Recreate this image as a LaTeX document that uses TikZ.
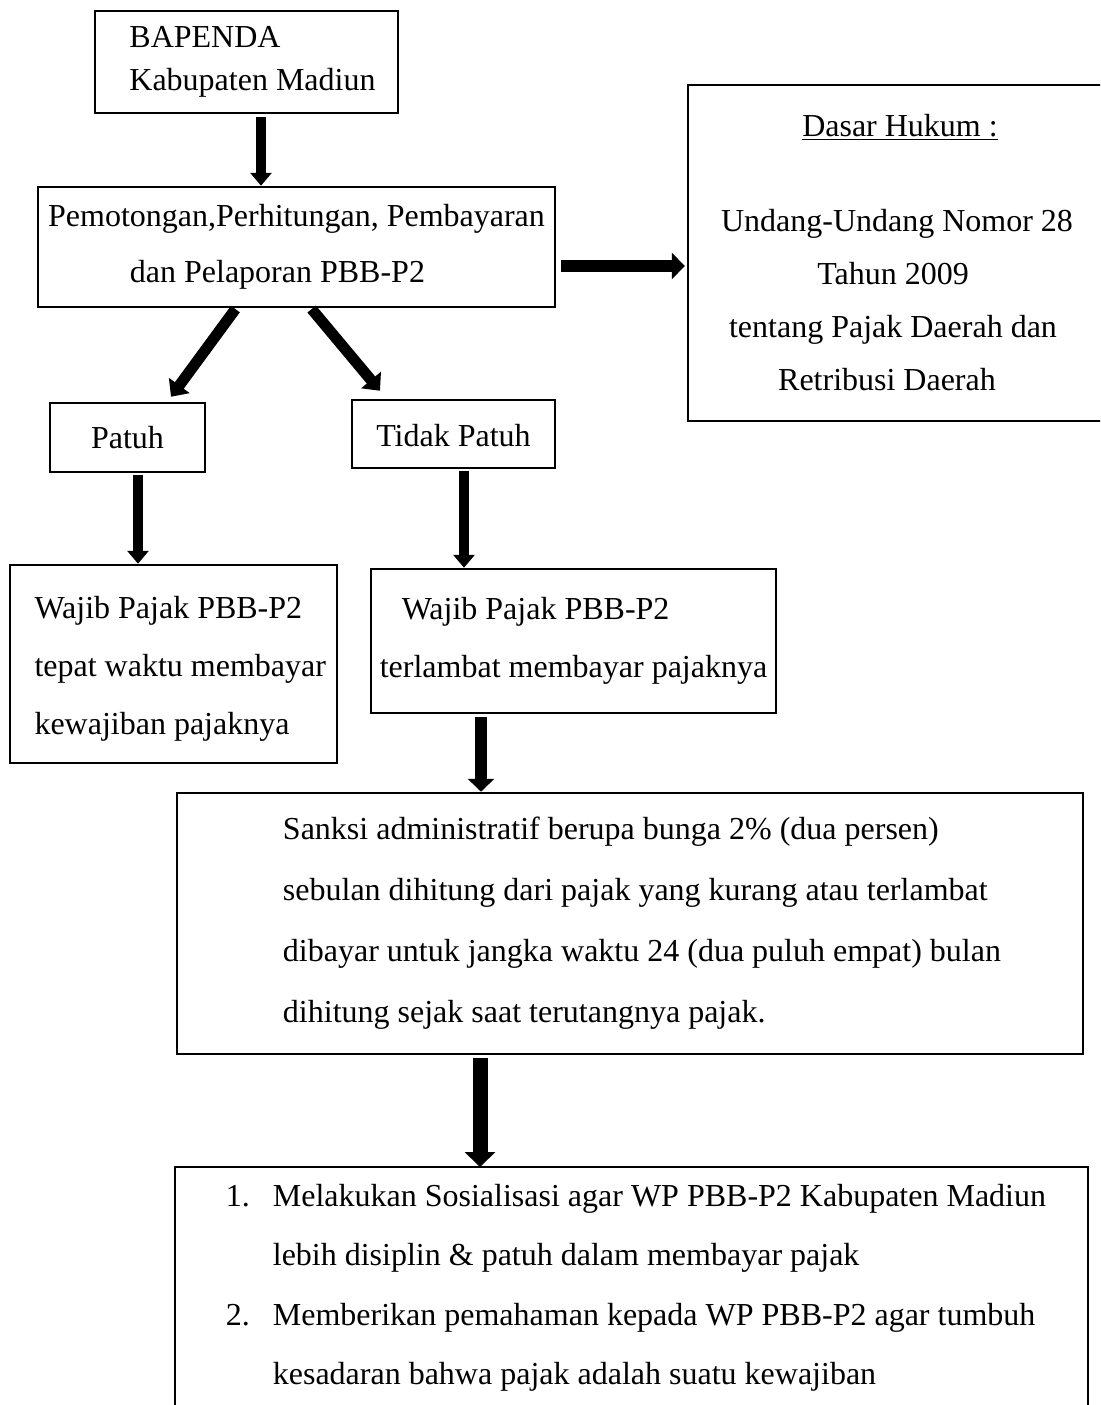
\documentclass[tikz,border=0pt]{standalone}
\usepackage{fontspec}
\setmainfont{Liberation Serif}
\usetikzlibrary{arrows.meta,calc}
\tikzset{
  box/.style={draw, line width=2.5pt, inner sep=0pt},
  txtbox/.style={inner sep=0pt},
  openline/.style={line width=2.5pt},
  arr/.style={line width=10pt, -{Triangle[width=21pt,length=13pt]}},
  arrbig/.style={line width=12pt, -{Triangle[width=26pt,length=13pt]}},
  arrfat/.style={line width=15pt, -{Triangle[width=30pt,length=15pt]}},
  arrdiag/.style={line width=11pt, -{Triangle[width=25pt,length=14pt]}},
}
\begin{document}
\begin{tikzpicture}[x=1pt,y=1pt]
\useasboundingbox (0,0) rectangle (1100,-1405);
\clip (0,0) rectangle (1100,-1405);
\fill[white] (0,0) rectangle (1100,-1405);

% boxes
\node[box, minimum width=303pt, minimum height=102pt, align=left,
      font=\fontsize{32}{43}\selectfont] (bap) at (246.5,-62)
  {\hspace*{12pt}BAPENDA\\\hspace*{12pt}Kabupaten Madiun};

\node[box, minimum width=517pt, minimum height=120pt, align=center,
      font=\fontsize{32}{56}\selectfont] (pem) at (296.5,-247)
  {Pemotongan,Perhitungan, Pembayaran\\dan Pelaporan PBB-P2\hspace*{38pt}};

\node[txtbox, minimum width=410pt, minimum height=336pt, align=center,
      font=\fontsize{32}{53}\selectfont] (dasar) at (893,-253)
  {\hspace*{14pt}\underline{Dasar Hukum :}\\[42pt]
   \hspace*{8pt}Undang-Undang Nomor 28\\
   Tahun 2009\hspace*{17pt}\\
   tentang Pajak Daerah dan\\
   Retribusi Daerah\hspace*{12pt}};
\draw[openline] ($(dasar.north east)+(30,0)$) -- (dasar.north west)
  -- (dasar.south west) -- ($(dasar.south east)+(30,0)$);

\node[box, minimum width=155pt, minimum height=69pt,
      font=\fontsize{32}{38}\selectfont] (patuh) at (127.5,-437.5) {Patuh};

\node[box, minimum width=203pt, minimum height=68pt,
      font=\fontsize{32}{38}\selectfont] (tidak) at (453.5,-434) {\rule{0pt}{26pt}Tidak Patuh};

\node[box, minimum width=327pt, minimum height=198pt, align=left,
      font=\fontsize{32}{58}\selectfont] (wajibL) at (173.5,-664)
  {\rule{0pt}{32pt}\hspace*{13.5pt}Wajib Pajak PBB-P2\\
   \hspace*{13.5pt}tepat waktu membayar\\
   \hspace*{13.5pt}kewajiban pajaknya};

\node[box, minimum width=405pt, minimum height=144pt, align=left,
      font=\fontsize{32}{58}\selectfont] (wajibR) at (573.5,-641)
  {\hspace*{22pt}Wajib Pajak PBB-P2\\terlambat membayar pajaknya};

\node[box, minimum width=906pt, minimum height=261pt, align=left,
      font=\fontsize{32}{61}\selectfont] (sanksi) at (630,-923.5)
  {\hspace*{24pt}Sanksi administratif berupa bunga 2\% (dua persen)\\
   \hspace*{24pt}sebulan dihitung dari pajak yang kurang atau terlambat\\
   \hspace*{24pt}dibayar untuk jangka waktu 24 (dua puluh empat) bulan\\
   \hspace*{24pt}dihitung sejak saat terutangnya pajak.};

\node[txtbox, anchor=north, minimum width=913pt, inner xsep=0pt, inner ysep=17pt,
      align=left, font=\fontsize{32}{59.5}\selectfont] (final) at (631.5,-1167)
  {\hspace*{9pt}\makebox[47pt][l]{1.}Melakukan Sosialisasi agar WP PBB-P2 Kabupaten Madiun\\
   \hspace*{56pt}lebih disiplin \& patuh dalam membayar pajak\\
   \hspace*{9pt}\makebox[47pt][l]{2.}Memberikan pemahaman kepada WP PBB-P2 agar tumbuh\\
   \hspace*{56pt}kesadaran bahwa pajak adalah suatu kewajiban};
\draw[openline] ($(final.south west)+(0,-60)$) -- (final.north west)
  -- (final.north east) -- ($(final.south east)+(0,-60)$);

% connectors
\draw[arr, shorten <=3pt] ([xshift=14.5pt]bap.south) -- ([xshift=14.5pt]bap.south |- pem.north);
\draw[arrbig, shorten <=5pt, shorten >=3pt] ([yshift=-19pt]pem.east) -- ([yshift=-19pt]pem.east -| dasar.west);
\draw[arrdiag, shorten <=1pt] ([xshift=-60.5pt]pem.south) -- ([xshift=43.5pt,yshift=5pt]patuh.north);
\draw[arrdiag, shorten <=1pt] ([xshift=14.5pt]pem.south) -- ([xshift=-73.5pt,yshift=8pt]tidak.north);
\draw[arr, shorten <=2pt] ([xshift=10.5pt]patuh.south) -- ([xshift=10.5pt]patuh.south |- wajibL.north);
\draw[arr, shorten <=2pt] ([xshift=10.5pt]tidak.south) -- ([xshift=10.5pt]tidak.south |- wajibR.north);
\draw[arrbig, shorten <=3pt] ([xshift=-92.5pt]wajibR.south) -- ([xshift=-92.5pt]wajibR.south |- sanksi.north);
\draw[arrfat, shorten <=3pt] ([xshift=-150pt]sanksi.south) -- ([xshift=-150pt]sanksi.south |- final.north);
\end{tikzpicture}
\end{document}
